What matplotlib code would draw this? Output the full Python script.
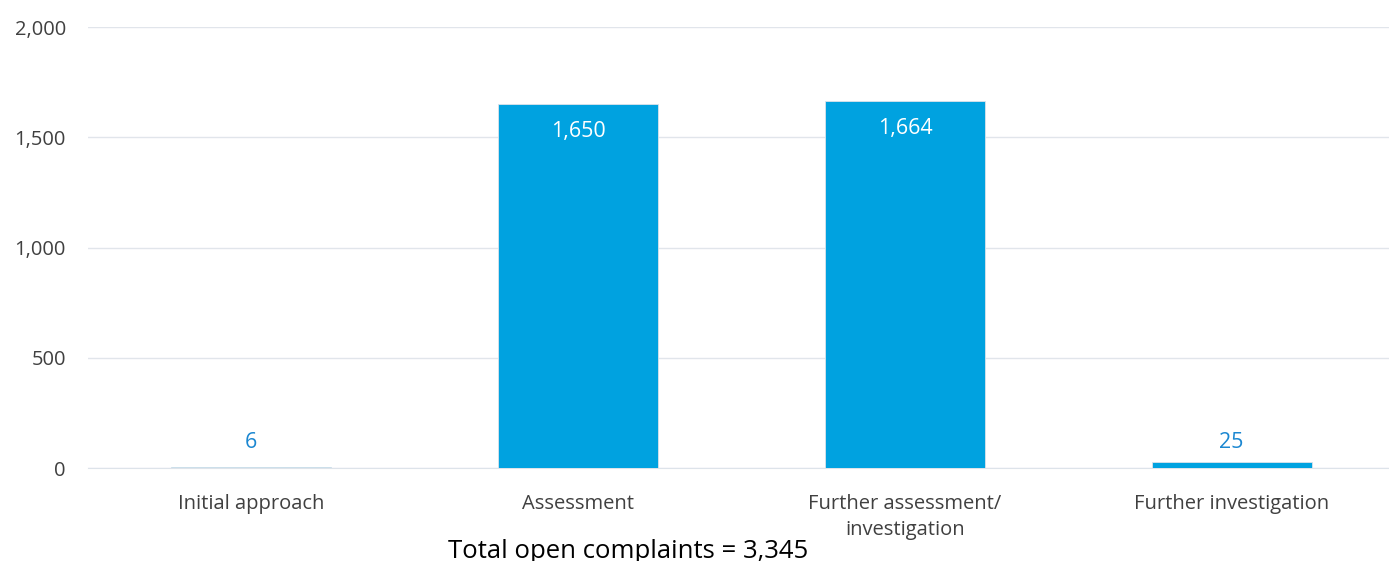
import numpy as np
import matplotlib.pyplot as plt
from matplotlib.ticker import FuncFormatter

categories = ['Initial approach', 'Assessment', 'Further assessment/\ninvestigation', 'Further investigation']
counts = [6, 1650, 1664, 25]
total = 3345

plt.rcParams['font.family'] = ['Open Sans', 'DejaVu Sans']
bar_col = '#00A2E0'

fig = plt.figure(figsize=(13.89, 5.61), dpi=100)
ax = fig.add_axes([88/1389, 1-468/561, 1307/1389, 441/561])

x = np.arange(len(categories))
bars = ax.bar(x, counts, width=0.49, color=bar_col, edgecolor='#DDE3EA', linewidth=0.6, zorder=3)

for xi, v in zip(x, counts):
    if v > 200:
        ax.text(xi, v - 125, f'{v:,}', ha='center', va='center', color='white', fontsize=15.5, zorder=4)
    else:
        ax.text(xi, 115, f'{v:,}', ha='center', va='center', color='#1B87D1', fontsize=15.5, zorder=4)

ax.set_xlim(-0.5, 3.5)
ax.set_ylim(0, 2000)
ax.set_yticks([0, 500, 1000, 1500, 2000])
ax.yaxis.set_major_formatter(FuncFormatter(lambda v, p: f'{int(v):,}'))
ax.set_xticks(x)
ax.set_xticklabels(categories, linespacing=1.35)
ax.grid(axis='y', color='#E1E5EB', linewidth=1, zorder=0)
for s in ['top', 'right', 'left']:
    ax.spines[s].set_visible(False)
ax.spines['bottom'].set_color('#DDE3EA')
ax.tick_params(axis='both', length=0, labelsize=14.5, colors='#404040')
ax.tick_params(axis='x', pad=19)
ax.tick_params(axis='y', pad=16)

fig.text(628/1389, 1-551/561, f'Total open complaints = {total:,}', ha='center', va='center',
         fontsize=18.5, color='black')

fig.savefig('out.png', dpi=100)
